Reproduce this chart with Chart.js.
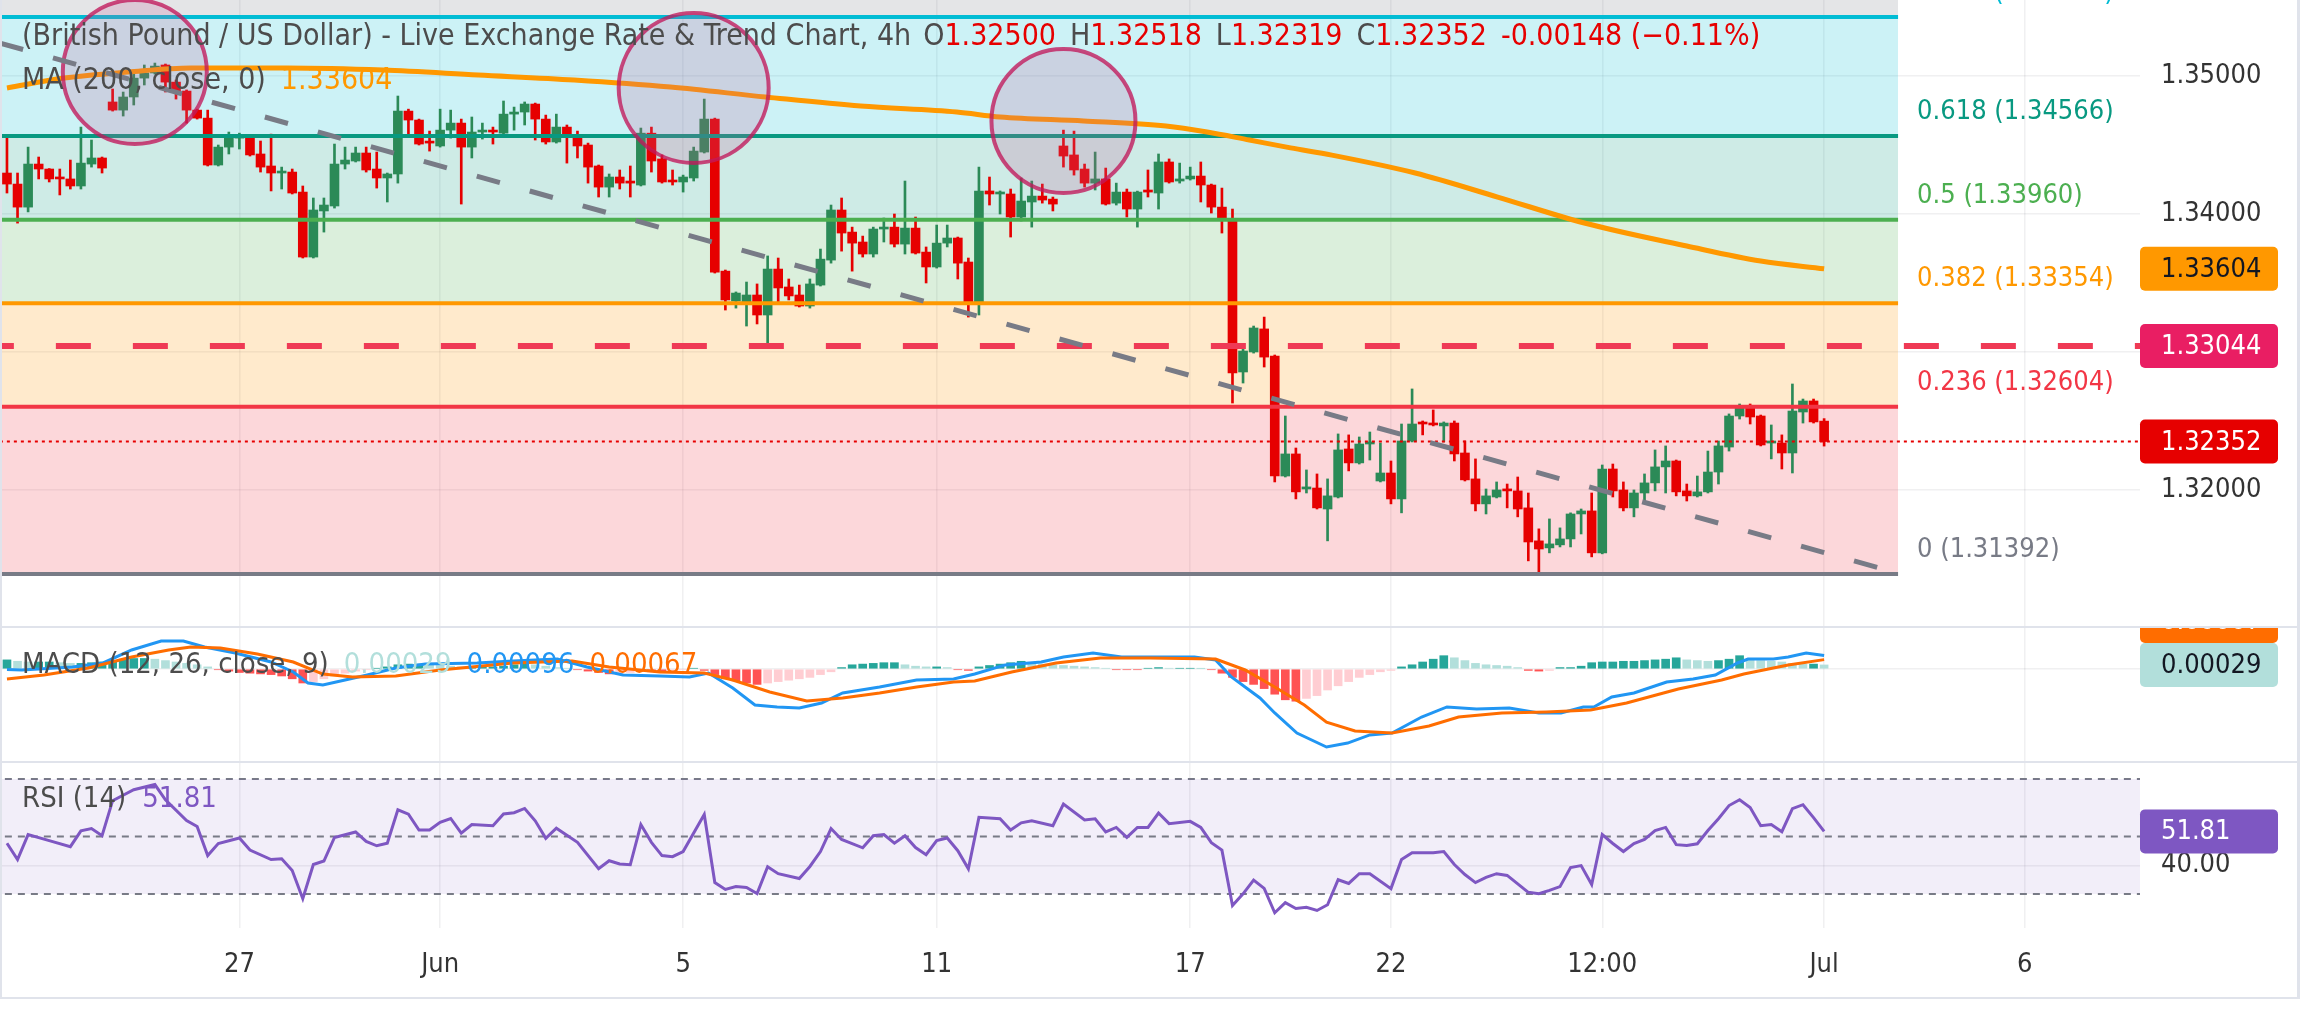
<!DOCTYPE html>
<html>
<head>
<meta charset="utf-8">
<title>GBP/USD 4h</title>
<script src="https://cdn.jsdelivr.net/npm/chart.js@4.4.1/dist/chart.umd.min.js"></script>
<style>
  html, body { margin: 0; padding: 0; background: #ffffff; }
  #wrap { position: relative; width: 2300px; height: 1030px; overflow: hidden; background: #ffffff; }
  #wrap canvas { position: absolute; left: 0; }
</style>
</head>
<body>
<div id="wrap">
  <canvas id="pricePane" width="2300" height="626" style="top:0px"></canvas>
  <canvas id="macdPane" width="2300" height="135" style="top:626px"></canvas>
  <canvas id="rsiPane" width="2300" height="269" style="top:761px"></canvas>
</div>
<script>
// ================= DATA =================
const chartTitle = '(British Pound / US Dollar) - Live Exchange Rate & Trend Chart, 4h';
const headerChange = [-0.00148, -0.11];

const tickIdx = [22, 41, 64, 88, 112, 131, 151, 172, 191];
const tickLabels = ['27', 'Jun', '5', '11', '17', '22', '12:00', 'Jul', '6'];
const priceTicks = [1.32, 1.33, 1.34, 1.35];

const opens = [
1.34298,1.34218,1.34051,1.34363,1.34327,1.34269,1.34255,1.34204,1.34363,1.34407,
1.34813,1.34754,1.34849,1.34986,1.35023,1.35081,1.34957,1.34892,1.34754,1.34696,
1.34356,1.34486,1.34551,1.34551,1.34436,1.34349,1.34298,1.34305,1.34160,1.33689,
1.34023,1.34059,1.34363,1.34385,1.34443,1.34327,1.34262,1.34291,1.34747,1.34682,
1.34523,1.34494,1.34609,1.34660,1.34486,1.34595,1.34602,1.34587,1.34725,1.34740,
1.34798,1.34689,1.34523,1.34631,1.34566,1.34501,1.34349,1.34196,1.34269,1.34240,
1.34211,1.34587,1.34400,1.34247,1.34233,1.34262,1.34450,1.34689,1.33587,1.33370,
1.33349,1.33414,1.33269,1.33602,1.33472,1.33414,1.33334,1.33486,1.33667,1.34030,
1.33870,1.33798,1.33711,1.33892,1.33906,1.33783,1.33899,1.33725,1.33617,1.33790,
1.33827,1.33653,1.33349,1.34168,1.34146,1.34146,1.33979,1.34088,1.34131,1.34109,
1.34494,1.34429,1.34327,1.34225,1.34255,1.34080,1.34160,1.34037,1.34175,1.34153,
1.34378,1.34240,1.34255,1.34276,1.34211,1.34051,1.33964,1.32856,1.33001,1.33168,
1.32972,1.32102,1.32262,1.32008,1.32015,1.31863,1.31950,1.32298,1.32197,1.32334,
1.32066,1.32124,1.31936,1.32356,1.32486,1.32486,1.32465,1.32486,1.32269,1.32081,
1.31900,1.31950,1.32008,1.31994,1.31871,1.31632,1.31581,1.31603,1.31646,1.31827,
1.31849,1.31545,1.32153,1.32001,1.31871,1.31979,1.32052,1.32168,1.32211,1.31994,
1.31958,1.31987,1.32131,1.32312,1.32537,1.32610,1.32537,1.32341,1.32341,1.32269,
1.32566,1.32646,1.32500];

const highs = [
1.34551,1.34298,1.34486,1.34414,1.34330,1.34327,1.34392,1.34631,1.34537,1.34414,
1.34907,1.34885,1.35044,1.35081,1.35095,1.35088,1.34972,1.34900,1.34761,1.34754,
1.34501,1.34595,1.34587,1.34573,1.34530,1.34580,1.34341,1.34327,1.34204,1.34117,
1.34117,1.34508,1.34486,1.34486,1.34486,1.34450,1.34298,1.34856,1.34761,1.34689,
1.34602,1.34761,1.34754,1.34689,1.34704,1.34660,1.34631,1.34820,1.34776,1.34813,
1.34805,1.34718,1.34725,1.34646,1.34602,1.34515,1.34356,1.34291,1.34320,1.34349,
1.34624,1.34631,1.34429,1.34320,1.34283,1.34486,1.34834,1.34696,1.33595,1.33436,
1.33508,1.33494,1.33697,1.33682,1.33530,1.33486,1.33530,1.33747,1.34066,1.34117,
1.33906,1.33841,1.33906,1.33972,1.34001,1.34240,1.33979,1.33762,1.33921,1.33921,
1.33834,1.33682,1.34341,1.34269,1.34168,1.34182,1.34262,1.34240,1.34218,1.34124,
1.34609,1.34602,1.34363,1.34450,1.34334,1.34225,1.34182,1.34167,1.34320,1.34436,
1.34400,1.34370,1.34341,1.34378,1.34218,1.34189,1.34037,1.33030,1.33189,1.33254,
1.32979,1.32537,1.32305,1.32146,1.32117,1.32081,1.32407,1.32400,1.32385,1.32421,
1.32341,1.32211,1.32479,1.32733,1.32501,1.32581,1.32494,1.32501,1.32356,1.32226,
1.32008,1.32059,1.32044,1.32095,1.31979,1.31719,1.31791,1.31726,1.31835,1.31863,
1.31979,1.32182,1.32189,1.32059,1.32001,1.32117,1.32291,1.32320,1.32218,1.32044,
1.32102,1.32283,1.32356,1.32552,1.32624,1.32624,1.32544,1.32472,1.32400,1.32769,
1.32660,1.32660,1.32518];

const lows = [
1.34153,1.33935,1.34016,1.34255,1.34233,1.34139,1.34182,1.34182,1.34341,1.34298,
1.34747,1.34711,1.34791,1.34936,1.35015,1.34885,1.34834,1.34660,1.34689,1.34349,
1.34349,1.34436,1.34472,1.34421,1.34305,1.34168,1.34182,1.34146,1.33682,1.33682,
1.33870,1.34044,1.34327,1.34378,1.34305,1.34189,1.34088,1.34225,1.34558,1.34501,
1.34457,1.34486,1.34551,1.34073,1.34407,1.34544,1.34508,1.34573,1.34609,1.34646,
1.34537,1.34508,1.34515,1.34370,1.34407,1.34225,1.34124,1.34124,1.34182,1.34124,
1.34204,1.34305,1.34225,1.34211,1.34160,1.34240,1.34443,1.33573,1.33305,1.33319,
1.33189,1.33204,1.33059,1.33356,1.33378,1.33327,1.33319,1.33479,1.33645,1.33732,
1.33587,1.33689,1.33689,1.33798,1.33762,1.33711,1.33711,1.33501,1.33609,1.33762,
1.33530,1.33254,1.33269,1.34066,1.34001,1.33834,1.33950,1.33906,1.34080,1.34023,
1.34341,1.34283,1.34196,1.34175,1.34066,1.34066,1.33979,1.33906,1.34124,1.34037,
1.34225,1.34225,1.34247,1.34088,1.34008,1.33863,1.32631,1.32776,1.32993,1.32892,
1.32059,1.32095,1.31936,1.31979,1.31863,1.31632,1.31943,1.32139,1.32189,1.32218,
1.32059,1.31900,1.31835,1.32349,1.32400,1.32465,1.32349,1.32211,1.32066,1.31849,
1.31827,1.31943,1.31871,1.31806,1.31487,1.31392,1.31545,1.31588,1.31588,1.31682,
1.31516,1.31538,1.31950,1.31849,1.31806,1.31907,1.31994,1.31979,1.31958,1.31921,
1.31950,1.31979,1.32044,1.32283,1.32515,1.32479,1.32320,1.32226,1.32153,1.32124,
1.32486,1.32486,1.32319];

const closes = [
1.34218,1.34051,1.34363,1.34327,1.34255,1.34255,1.34204,1.34370,1.34407,1.34334,
1.34754,1.34849,1.34986,1.35023,1.35073,1.34957,1.34892,1.34754,1.34696,1.34356,
1.34486,1.34551,1.34558,1.34429,1.34341,1.34298,1.34305,1.34153,1.33689,1.34030,
1.34066,1.34363,1.34392,1.34443,1.34320,1.34262,1.34291,1.34747,1.34682,1.34508,
1.34515,1.34609,1.34660,1.34486,1.34595,1.34602,1.34595,1.34725,1.34740,1.34798,
1.34689,1.34523,1.34631,1.34558,1.34494,1.34341,1.34196,1.34269,1.34225,1.34225,
1.34587,1.34385,1.34233,1.34233,1.34269,1.34457,1.34689,1.33580,1.33378,1.33428,
1.33414,1.33269,1.33602,1.33465,1.33407,1.33334,1.33494,1.33674,1.34030,1.33863,
1.33790,1.33711,1.33892,1.33906,1.33783,1.33899,1.33718,1.33617,1.33790,1.33827,
1.33645,1.33349,1.34168,1.34146,1.34153,1.33979,1.34095,1.34131,1.34102,1.34073,
1.34421,1.34320,1.34225,1.34255,1.34073,1.34160,1.34037,1.34160,1.34160,1.34378,
1.34233,1.34255,1.34276,1.34211,1.34051,1.33964,1.32849,1.33008,1.33175,1.32964,
1.32102,1.32262,1.31987,1.32023,1.31871,1.31958,1.32291,1.32197,1.32334,1.32349,
1.32124,1.31936,1.32356,1.32479,1.32479,1.32472,1.32486,1.32262,1.32074,1.31900,
1.31958,1.32001,1.31994,1.31863,1.31624,1.31573,1.31610,1.31646,1.31827,1.31849,
1.31545,1.32153,1.31994,1.31871,1.31979,1.32052,1.32168,1.32211,1.31987,1.31958,
1.31987,1.32131,1.32320,1.32537,1.32610,1.32530,1.32327,1.32356,1.32269,1.32573,
1.32646,1.32494,1.32352];

// 200-period moving average, read at [bar, price]
const maPoints = [[0,1.34914],[5.4,1.34986],[11.5,1.35030],[17.4,1.35059],[26.5,1.35059],[35.6,1.35044],
[44.6,1.35008],[53.7,1.34972],[62.8,1.34921],[71.8,1.34849],[80.8,1.34783],[89.9,1.34740],[94,1.34704],
[101.9,1.34675],[109.7,1.34638],[113.6,1.34595],[117.6,1.34537],[121.5,1.34480],[125.4,1.34428],
[133.3,1.34298],[141.1,1.34124],[149.3,1.33936],[159,1.33769],[166,1.33660],[172,1.33604]];

// Fibonacci retracement
const fibRatios = [0, 0.236, 0.382, 0.5, 0.618, 0.786, 1];
const fibPrices = [1.31392, 1.32604, 1.33354, 1.33960, 1.34566, 1.35429, 1.36528];
const fibStartX = -5, fibEndX = 179;

// drawings
const alertLevel = 1.33044;
const trendPoints = [[-0.66, 1.35240], [177.2, 1.31436]];
const highlightPoints = [[12.1, 1.35030], [65.0, 1.34914], [100.0, 1.34675]];

// MACD (12, 26, 9)
const macdLine = [[0,-0.00003],[1.4,-0.00007],[6.2,0.00014],[9.1,0.00043],[11.8,0.00136],[14.6,0.00200],
[16.7,0.00200],[18.7,0.00157],[21.6,0.00114],[25,0.00050],[27.1,-0.00021],[28.5,-0.00100],[29.9,-0.00114],
[32,-0.00079],[34.1,-0.00043],[36.8,0.00007],[39.6,0.00036],[44.5,0.00043],[47.9,0.00057],[52.1,0.00071],
[54.9,0.00014],[58.3,-0.00043],[61.8,-0.00050],[64.6,-0.00057],[66.4,-0.00029],[68.7,-0.00136],
[70.8,-0.00257],[72.9,-0.00271],[75,-0.00279],[77.1,-0.00243],[79.1,-0.00171],[82.6,-0.00129],
[86.1,-0.00079],[89.6,-0.00071],[91.6,-0.00036],[94.5,0.00029],[97.9,0.00050],[100,0.00086],
[102.8,0.00114],[105.5,0.00086],[108.2,0.00086],[112.4,0.00086],[114.4,0.00064],[115.9,-0.00057],
[118.6,-0.00207],[120,-0.00314],[122.1,-0.00457],[124.9,-0.00557],[126.9,-0.00529],[129,-0.00471],
[131.1,-0.00457],[133.9,-0.00343],[136.3,-0.00271],[139.1,-0.00286],[142.2,-0.00279],[145,-0.00314],
[147.1,-0.00314],[149.2,-0.00271],[150.2,-0.00271],[151.9,-0.00200],[154,-0.00171],[157.1,-0.00093],
[159.6,-0.00071],[161.7,-0.00043],[163.8,0.00043],[164.8,0.00071],[167.2,0.00071],[168.6,0.00086],
[170.3,0.00114],[172,0.00096]];

const signalLine = [[0,-0.00071],[3.5,-0.00043],[7.7,0.00007],[11.8,0.00086],[15.3,0.00136],[17.4,0.00157],
[20.2,0.00150],[23.7,0.00107],[27.1,0.00050],[29.9,-0.00036],[32.7,-0.00057],[36.8,-0.00050],[41,-0.00007],
[47.9,0.00043],[53.5,0.00057],[57,0.00014],[61.8,-0.00021],[66,-0.00029],[68.7,-0.00079],[72.2,-0.00164],
[75.7,-0.00229],[79.1,-0.00207],[82.6,-0.00171],[86.1,-0.00129],[89.6,-0.00093],[91.6,-0.00086],
[95.1,-0.00021],[99.3,0.00043],[103.5,0.00079],[108.2,0.00079],[114.4,0.00071],[117.2,-0.00007],
[120,-0.00129],[122.8,-0.00257],[124.9,-0.00379],[127.6,-0.00443],[131.1,-0.00457],[134.6,-0.00407],
[137.4,-0.00343],[141.5,-0.00314],[145.7,-0.00307],[149.9,-0.00293],[153.3,-0.00243],[158.2,-0.00143],
[162.3,-0.00079],[164.4,-0.00036],[168.6,0.00029],[172,0.00067]];

const macdHist = [
0.00065,0.00055,0.00050,0.00050,0.00050,0.00045,0.00040,0.00040,0.00045,0.00050,
0.00060,0.00070,0.00075,0.00075,0.00070,0.00060,0.00050,0.00040,0.00030,0.00015,
-0.00005,-0.00015,-0.00025,-0.00030,-0.00035,-0.00040,-0.00050,-0.00070,-0.00100,-0.00090,
-0.00070,-0.00050,-0.00030,-0.00015,-0.00005,0.00005,0.00015,0.00030,0.00035,0.00035,
0.00030,0.00025,0.00020,0.00015,0.00015,0.00015,0.00015,0.00020,0.00030,0.00035,
0.00030,0.00020,0.00010,0.00005,-0.00005,-0.00015,-0.00025,-0.00035,-0.00030,-0.00025,
-0.00015,-0.00020,-0.00025,-0.00015,-0.00005,0.00005,-0.00010,-0.00040,-0.00070,-0.00085,
-0.00100,-0.00110,-0.00100,-0.00090,-0.00080,-0.00070,-0.00060,-0.00040,-0.00020,0.00010,
0.00030,0.00035,0.00040,0.00045,0.00045,0.00030,0.00020,0.00015,0.00015,0.00010,
-0.00005,-0.00010,0.00015,0.00025,0.00035,0.00045,0.00055,0.00045,0.00035,0.00030,
0.00025,0.00020,0.00015,0.00010,0.00005,-0.00005,-0.00005,-0.00005,0.00005,0.00010,
0.00005,0.00005,0.00005,0.00003,-0.00005,-0.00030,-0.00060,-0.00090,-0.00110,-0.00140,
-0.00180,-0.00220,-0.00230,-0.00210,-0.00190,-0.00150,-0.00120,-0.00090,-0.00060,-0.00040,
-0.00020,-0.00010,0.00015,0.00030,0.00050,0.00070,0.00095,0.00080,0.00060,0.00040,
0.00030,0.00025,0.00020,0.00010,-0.00010,-0.00015,-0.00010,0.00010,0.00010,0.00020,
0.00045,0.00050,0.00050,0.00055,0.00055,0.00060,0.00065,0.00070,0.00080,0.00065,
0.00060,0.00055,0.00060,0.00070,0.00095,0.00070,0.00060,0.00055,0.00050,0.00040,
0.00035,0.00035,0.00029];

// RSI (14), read at [bar, value]
const rsiPoints = [[0,47.7],[1,42],[2,50.7],[4,48.6],[6,46.5],[7,52],[8,52.8],[9,50.3],[10,62.5],[12,66.3],
[14,68.1],[15,62.8],[17,55.6],[18,53.5],[19,43.4],[20,47.6],[22,49.5],[23,45.3],[25,42],[26,42.3],[27,38.2],
[28,28.4],[29,40.3],[30,41.5],[31,49.7],[33,51.6],[34,48.3],[35,46.8],[36,47.7],[37,59.3],[38,57.8],[39,52.3],
[40,52.3],[41,55],[42,56.3],[43,51.2],[44,54.2],[46,53.8],[47,57.9],[48,58.3],[49,59.8],[50,55.5],[51,49.4],
[52,52.9],[54,48],[56,38.8],[57,41.6],[58,40.5],[59,40.2],[60,54.2],[61,48],[62,43.4],[63,43],[64,44.8],
[66,57.7],[67,34],[68,31.6],[69,32.6],[70,32.3],[71,30.2],[72,39.5],[73,37.1],[75,35.4],[76,39.6],[77,44.8],
[78,52.8],[79,49],[81,46.1],[82,50.3],[83,50.7],[84,47.7],[85,50.3],[86,46.2],[87,43.7],[88,48.6],[89,49.5],
[90,45.1],[91,38.8],[92,56.7],[94,56.2],[95,52.3],[96,54.8],[97,55.5],[99,53.8],[100,61.3],[102,55.8],
[103,56.2],[104,51.6],[105,53.2],[106,49.7],[107,53.2],[108,53.2],[109,58.2],[110,54.5],[112,55.3],
[113,53.2],[114,47.9],[115,45.3],[116,26],[117,30.1],[118,34.9],[119,32],[120,23.5],[121,27],[122,25],
[123,25.4],[124,24.3],[125,26.3],[126,35],[127,33.7],[128,37.1],[129,37.1],[131,31.9],[132,42],[133,44.4],
[135,44.4],[136,44.8],[137,40.3],[138,36.8],[139,34],[140,35.8],[141,37.1],[142,36.5],[144,30.6],[145,30.1],
[146,31.3],[147,32.6],[148,39.2],[149,39.9],[150,33.3],[151,50.7],[152,47.6],[153,44.8],[154,47.6],[155,49],
[156,52.1],[157,53.2],[158,47.2],[159,46.9],[160,47.5],[161,52.1],[162,56.2],[163,60.8],[164,62.8],
[165,60.1],[166,53.8],[167,54.2],[168,51.7],[169,59.7],[170,61.1],[171,56.6],[172,51.81]];
const rsiBands = [70, 50, 30];
const rsiTicks = [40];

// ================= VIEW / STYLE =================
const X_MIN = -0.66, X_MAX = 201.9;
const PRICE_MIN = 1.31015, PRICE_MAX = 1.35552;
const MACD_MIN = -0.00657, MACD_MAX = 0.00307;
const RSI_MIN = 18.2, RSI_MAX = 76.3;

const FONT = '"DejaVu Sans Condensed", "Liberation Sans Narrow", "DejaVu Sans", sans-serif';
const UP = '#2b8a57', DOWN = '#e60000';
const GRID = 'rgba(42,46,57,0.07)';
const TICK_TEXT = '#333333';
const LEG = '#4c4c4c';
const FRAME = '#e0e3eb';
const HEADER_SIZE = 30, IND_SIZE = 29;
const fibColors = ['#787b86', '#f23645', '#ff9800', '#4caf50', '#089981', '#00bcd4', '#787b86'];
const fibZoneColors = ['rgba(0,0,0,0)', 'rgba(242,54,69,0.2)', 'rgba(255,152,0,0.2)', 'rgba(76,175,80,0.2)',
                       'rgba(8,153,129,0.2)', 'rgba(0,188,212,0.2)', 'rgba(120,123,134,0.2)'];
const highlightRadii = [72, 75, 72];

// ================= HELPERS =================
function txt(ctx, s, x, y, color, size, align) {
  ctx.font = size + 'px ' + FONT;
  ctx.fillStyle = color;
  ctx.textAlign = align || 'left';
  ctx.textBaseline = 'middle';
  ctx.fillText(s, x, y);
  return ctx.measureText(s).width;
}
function drawSegments(ctx, segs, x, y, size) {
  segs.forEach(sg => {
    if (sg.gap) { x += sg.gap; return; }
    x += txt(ctx, sg.t, x, y, sg.c, size);
  });
}
function valueBoxes(chart, items) {
  const {ctx, chartArea, scales: {y}} = chart;
  const H = 44, W = 138;
  const list = items.map(it => Object.assign({py: y.getPixelForValue(it.v)}, it)).sort((a, b) => b.py - a.py);
  let limit = Infinity;
  list.forEach(it => { it.cy = Math.min(it.py, limit - H / 2); limit = it.cy - H / 2; });
  list.forEach(it => {
    ctx.beginPath();
    ctx.roundRect(chartArea.right, it.cy - H / 2, W, H, 5);
    ctx.fillStyle = it.bg;
    ctx.fill();
    txt(ctx, it.v.toFixed(it.d), chartArea.right + 21, it.cy + 1, it.fg, 27);
  });
}
function sideFrame(ctx, h) {
  ctx.fillStyle = FRAME;
  ctx.fillRect(0, 0, 2, h);
  ctx.fillRect(2297, 0, 3, h);
}
function xAxis(showLabels) {
  return {
    type: 'linear', min: X_MIN, max: X_MAX, offset: false,
    grid: { color: GRID, lineWidth: 1.5, drawTicks: false, offset: false },
    border: { display: false },
    ticks: showLabels ? {
      display: true, autoSkip: false, maxRotation: 0, minRotation: 0, padding: 21,
      color: TICK_TEXT, font: { family: FONT, size: 27 }, callback: (v, i) => tickLabels[i]
    } : { display: false },
    afterBuildTicks: s => { s.ticks = tickIdx.map(v => ({ value: v })); },
    afterFit: s => { s.height = showLabels ? 69 : 0; s.paddingLeft = 0; s.paddingRight = 0; }
  };
}
function yAxis(min, max, ticks, fmt) {
  return {
    type: 'linear', position: 'right', min: min, max: max,
    grid: { color: GRID, lineWidth: 1.5, drawTicks: false },
    border: { display: false },
    ticks: fmt ? { display: true, padding: 21, color: TICK_TEXT, font: { family: FONT, size: 27 }, callback: fmt }
               : { display: false },
    afterBuildTicks: s => { s.ticks = ticks.map(v => ({ value: v })); },
    afterFit: s => { s.width = 160; s.paddingTop = 0; s.paddingBottom = 0; }
  };
}
function hLine(value, color, width, dash, order) {
  return {
    type: 'line', data: [{ x: X_MIN - 2, y: value }, { x: X_MAX + 2, y: value }],
    borderColor: color, borderWidth: width, borderDash: dash || [], pointRadius: 0, fill: false, order: order
  };
}
function pts(arr) { return arr.map(p => ({ x: p[0], y: p[1] })); }

const baseOpts = {
  responsive: false, animation: false, devicePixelRatio: 1, events: [],
  layout: { padding: 0, autoPadding: false },
  plugins: { legend: { display: false }, tooltip: { enabled: false }, title: { display: false } }
};

// ================= PRICE PANE =================
const last = closes.length - 1;
const candleColors = closes.map((c, i) => c >= opens[i] ? UP : DOWN);

const fibFillSets = fibPrices.map((p, i) => ({
  type: 'line', data: [{ x: fibStartX, y: p }, { x: fibEndX, y: p }],
  borderWidth: 0, borderColor: 'rgba(0,0,0,0)', pointRadius: 0,
  fill: i === 0 ? false : '-1', backgroundColor: fibZoneColors[i], order: 30
}));
const fibLineSets = fibPrices.map((p, i) => ({
  type: 'line', data: [{ x: fibStartX, y: p }, { x: fibEndX, y: p }],
  borderWidth: 4, borderColor: fibColors[i], pointRadius: 0, fill: false, order: 10
}));

const pricePlugin = {
  id: 'priceExtras',
  afterDatasetsDraw(chart) {
    const { ctx, scales: { x, y } } = chart;
    ctx.save();
    fibRatios.forEach((r, i) => {
      const py = y.getPixelForValue(fibPrices[i]);
      txt(ctx, r + ' (' + fibPrices[i].toFixed(5) + ')', x.getPixelForValue(fibEndX) + 19, py - 24, fibColors[i], 27);
    });
    ctx.restore();
  },
  afterDraw(chart) {
    const ctx = chart.ctx;
    ctx.save();
    const pct = headerChange[1];
    drawSegments(ctx, [
      { t: chartTitle, c: LEG }, { gap: 12 },
      { t: 'O', c: LEG }, { t: opens[last].toFixed(5), c: DOWN }, { gap: 14 },
      { t: 'H', c: LEG }, { t: highs[last].toFixed(5), c: DOWN }, { gap: 14 },
      { t: 'L', c: LEG }, { t: lows[last].toFixed(5), c: DOWN }, { gap: 14 },
      { t: 'C', c: LEG }, { t: closes[last].toFixed(5), c: DOWN }, { gap: 14 },
      { t: headerChange[0].toFixed(5) + ' (' + (pct < 0 ? '\u2212' : '+') + Math.abs(pct).toFixed(2) + '%)', c: DOWN }
    ], 22, 37, HEADER_SIZE);
    drawSegments(ctx, [
      { t: 'MA (200, close, 0)', c: LEG }, { gap: 15 },
      { t: maPoints[maPoints.length - 1][1].toFixed(5), c: '#ff9800' }
    ], 22, 81, HEADER_SIZE);
    valueBoxes(chart, [
      { v: maPoints[maPoints.length - 1][1], bg: '#ff9800', fg: '#131722', d: 5 },
      { v: alertLevel, bg: '#e91e63', fg: '#ffffff', d: 5 },
      { v: closes[last], bg: '#e60000', fg: '#ffffff', d: 5 }
    ]);
    sideFrame(ctx, chart.height);
    ctx.restore();
  }
};

new Chart(document.getElementById('pricePane'), {
  type: 'bar',
  data: {
    datasets: [
      ...fibFillSets,
      { type: 'bar', data: highs.map((h, i) => ({ x: i, y: [lows[i], h] })), backgroundColor: candleColors,
        barThickness: 2, grouped: false, borderWidth: 0, order: 20 },
      { type: 'bar', data: opens.map((o, i) => ({ x: i, y: [o, closes[i]] })), backgroundColor: candleColors,
        barThickness: 9, minBarLength: 2, grouped: false, borderWidth: 0, order: 19 },
      ...fibLineSets,
      hLine(alertLevel, '#ef3a55', 6, [35, 42], 9),
      hLine(closes[last], '#e60000', 2, [3, 4], 8),
      { type: 'line', data: pts(maPoints), borderColor: '#ff9800', borderWidth: 5, pointRadius: 0,
        cubicInterpolationMode: 'monotone', fill: false, order: 7 },
      { type: 'bubble', data: pts(highlightPoints), radius: c => highlightRadii[c.dataIndex],
        backgroundColor: 'rgba(192,96,148,0.22)', borderColor: 'rgba(194,24,91,0.78)', borderWidth: 4, order: 6 },
      { type: 'line', data: pts(trendPoints), borderColor: '#787b86', borderWidth: 5, borderDash: [24, 31],
        borderCapStyle: 'butt', pointRadius: 0, fill: false, order: 5 }
    ]
  },
  options: Object.assign({}, baseOpts, {
    scales: {
      x: xAxis(false),
      y: yAxis(PRICE_MIN, PRICE_MAX, priceTicks, v => v.toFixed(5))
    }
  }),
  plugins: [pricePlugin]
});

// ================= MACD PANE =================
const histColors = macdHist.map((v, i) => {
  const prev = i > 0 ? macdHist[i - 1] : v;
  if (v >= 0) return v >= prev ? '#26a69a' : '#b2dfdb';
  return v <= prev ? '#ff5252' : '#ffcdd2';
});
const macdLast = macdLine[macdLine.length - 1][1];
const signalLast = signalLine[signalLine.length - 1][1];
const histLast = macdHist[macdHist.length - 1];

const macdPlugin = {
  id: 'macdExtras',
  afterDraw(chart) {
    const ctx = chart.ctx;
    ctx.save();
    drawSegments(ctx, [
      { t: 'MACD (12, 26, close, 9)', c: LEG }, { gap: 15 },
      { t: histLast.toFixed(5), c: '#b2dfdb' }, { gap: 15 },
      { t: macdLast.toFixed(5), c: '#2196f3' }, { gap: 15 },
      { t: signalLast.toFixed(5), c: '#ff6d00' }
    ], 22, 39, IND_SIZE);
    valueBoxes(chart, [
      { v: macdLast, bg: '#2196f3', fg: '#ffffff', d: 5 },
      { v: signalLast, bg: '#ff6d00', fg: '#ffffff', d: 5 },
      { v: histLast, bg: '#b2dfdb', fg: '#131722', d: 5 }
    ]);
    ctx.fillStyle = FRAME;
    ctx.fillRect(0, 0, 2300, 2);
    sideFrame(ctx, chart.height);
    ctx.restore();
  }
};

new Chart(document.getElementById('macdPane'), {
  type: 'bar',
  data: {
    datasets: [
      { type: 'bar', data: macdHist.map((v, i) => ({ x: i, y: v })), backgroundColor: histColors,
        barThickness: 8, grouped: false, borderWidth: 0, order: 3 },
      { type: 'line', data: pts(macdLine), borderColor: '#2196f3', borderWidth: 3, pointRadius: 0, fill: false, order: 2 },
      { type: 'line', data: pts(signalLine), borderColor: '#ff6d00', borderWidth: 3, pointRadius: 0, fill: false, order: 1 }
    ]
  },
  options: Object.assign({}, baseOpts, {
    scales: { x: xAxis(false), y: yAxis(MACD_MIN, MACD_MAX, [0], null) }
  }),
  plugins: [macdPlugin]
});

// ================= RSI PANE + TIME AXIS =================
const rsiLast = rsiPoints[rsiPoints.length - 1][1];
const rsiPlugin = {
  id: 'rsiExtras',
  afterDraw(chart) {
    const ctx = chart.ctx;
    ctx.save();
    drawSegments(ctx, [
      { t: 'RSI (14)', c: LEG }, { gap: 16 }, { t: rsiLast.toFixed(2), c: '#7e57c2' }
    ], 22, 38, IND_SIZE);
    valueBoxes(chart, [{ v: rsiLast, bg: '#7e57c2', fg: '#ffffff', d: 2 }]);
    const bottom = chart.chartArea.bottom + 69;
    ctx.fillStyle = FRAME;
    ctx.fillRect(0, 0, 2300, 2);
    ctx.fillRect(0, bottom, 2300, 2);
    sideFrame(ctx, bottom);
    ctx.restore();
  }
};

const band70 = hLine(rsiBands[0], '#787b86', 2, [7, 6], 5);
const band30 = Object.assign(hLine(rsiBands[2], '#787b86', 2, [7, 6], 4), { fill: '-1', backgroundColor: 'rgba(126,87,194,0.1)' });
const band50 = hLine(rsiBands[1], '#787b86', 2, [7, 6], 3);

new Chart(document.getElementById('rsiPane'), {
  type: 'line',
  data: {
    datasets: [
      band70, band30, band50,
      { type: 'line', data: pts(rsiPoints), borderColor: '#7e57c2', borderWidth: 3, pointRadius: 0, fill: false, order: 1 }
    ]
  },
  options: Object.assign({}, baseOpts, {
    layout: { padding: { left: 0, right: 0, top: 0, bottom: 33 }, autoPadding: false },
    scales: { x: xAxis(true), y: yAxis(RSI_MIN, RSI_MAX, rsiTicks, v => v.toFixed(2)) }
  }),
  plugins: [rsiPlugin]
});
</script>
</body>
</html>
